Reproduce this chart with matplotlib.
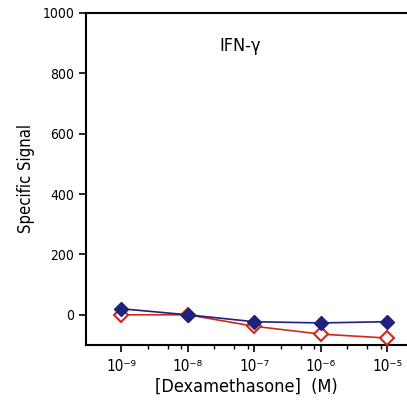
import matplotlib
matplotlib.use("Agg")
import matplotlib.pyplot as plt
import matplotlib.ticker as mticker
import numpy as np

plt.rcParams['font.family'] = ['DejaVu Sans']
plt.rcParams['font.stretch'] = 'condensed'

conc = [1e-9, 1e-8, 1e-7, 1e-6, 1e-5]
conc_labels = ["10\u207b\u2079", "10\u207b\u2078", "10\u207b\u2077",
               "10\u207b\u2076", "10\u207b\u2075"]
blue_vals = [20, 0, -23, -27, -23]
red_vals = [0, 0, -38, -64, -77]
yticks = [0, 200, 400, 600, 800, 1000]
minor_subs = [2.5, 5, 8]

fig = plt.figure(figsize=(4.07, 4.03), dpi=100)
ax = fig.add_axes([0.211, 0.144, 0.789, 0.824])

ax.plot(conc, red_vals, color="#d0281a", lw=1.2, marker="D", ms=7,
        mfc="white", mec="#d0281a", mew=1.5, zorder=3)
ax.plot(conc, blue_vals, color="#20207e", lw=1.2, marker="D", ms=7,
        mfc="#20207e", mec="#20207e", zorder=4)

ax.set_xscale("log")
ax.set_xlim(10**-9.53, 10**-4.7)
ax.set_ylim(-100, 1000)
ax.set_yticks(yticks)
ax.set_xticks(conc)
ax.set_xticklabels(conc_labels)
minors = [s * c for c in conc[:-1] for s in minor_subs]
ax.xaxis.set_minor_locator(mticker.FixedLocator(minors))
ax.xaxis.set_minor_formatter(mticker.NullFormatter())

for s in ["left", "bottom", "top"]:
    ax.spines[s].set_linewidth(1.5)
ax.spines["right"].set_visible(False)
ax.tick_params(axis="both", which="major", direction="out", length=5,
               width=1.2, labelsize=10)
ax.tick_params(axis="x", which="major", labelsize=11, pad=5)
ax.tick_params(axis="x", which="minor", direction="out", length=3, width=1)

ax.set_ylabel("Specific Signal", fontsize=12, labelpad=5)
ax.set_xlabel("[Dexamethasone]  (M)", fontsize=13, labelpad=3)
ax.text(0.48, 0.90, "IFN-\u03b3", transform=ax.transAxes, fontsize=13,
        ha="center", va="center")

fig.savefig("out.png", dpi=100)
